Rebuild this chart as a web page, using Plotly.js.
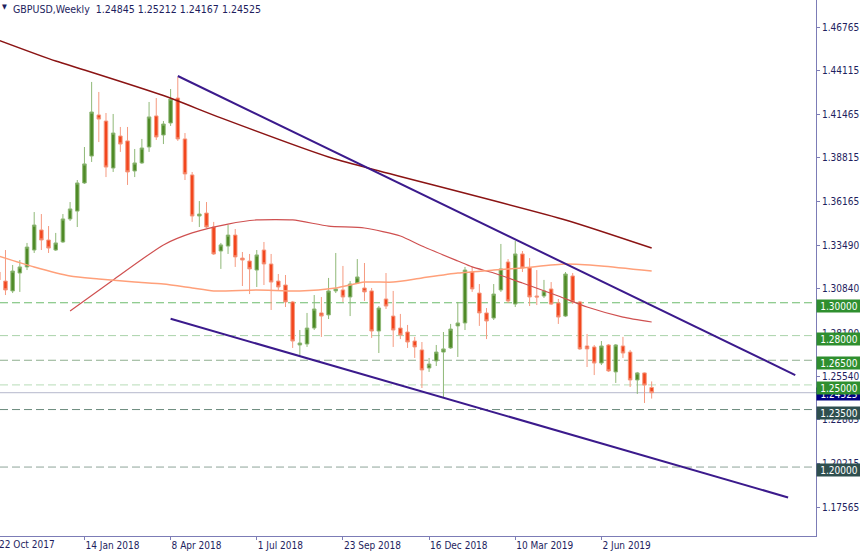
<!DOCTYPE html>
<html><head><meta charset="utf-8">
<script src="https://cdn.plot.ly/plotly-3.0.1.min.js"></script>
<style>html,body{margin:0;padding:0;background:#fff}#chart{width:860px;height:553px}</style>
</head><body><div id="chart"></div>
<script>
// Weekly candles, GBPUSD
const weeks = ["2017-10-22","2017-10-29","2017-11-05","2017-11-12","2017-11-19","2017-11-26","2017-12-03","2017-12-10","2017-12-17","2017-12-24",
"2017-12-31","2018-01-07","2018-01-14","2018-01-21","2018-01-28","2018-02-04","2018-02-11","2018-02-18","2018-02-25","2018-03-04",
"2018-03-11","2018-03-18","2018-03-25","2018-04-01","2018-04-08","2018-04-15","2018-04-22","2018-04-29","2018-05-06","2018-05-13",
"2018-05-20","2018-05-27","2018-06-03","2018-06-10","2018-06-17","2018-06-24","2018-07-01","2018-07-08","2018-07-15","2018-07-22",
"2018-07-29","2018-08-05","2018-08-12","2018-08-19","2018-08-26","2018-09-02","2018-09-09","2018-09-16","2018-09-23","2018-09-30",
"2018-10-07","2018-10-14","2018-10-21","2018-10-28","2018-11-04","2018-11-11","2018-11-18","2018-11-25","2018-12-02","2018-12-09",
"2018-12-16","2018-12-23","2018-12-30","2019-01-06","2019-01-13","2019-01-20","2019-01-27","2019-02-03","2019-02-10","2019-02-17",
"2019-02-24","2019-03-03","2019-03-10","2019-03-17","2019-03-24","2019-03-31","2019-04-07","2019-04-14","2019-04-21","2019-04-28",
"2019-05-05","2019-05-12","2019-05-19","2019-05-26","2019-06-02","2019-06-09","2019-06-16","2019-06-23","2019-06-30","2019-07-07",
"2019-07-14","2019-07-21"];
const open = [1.3187,1.3132,1.3072,1.3181,1.3218,1.3321,1.3443,1.3382,1.3321,1.3370,
1.3510,1.3558,1.3729,1.3893,1.4143,1.4106,1.3820,1.4015,1.3985,1.3802,
1.3851,1.3948,1.4137,1.4021,1.4094,1.4246,1.3997,1.3778,1.3528,1.3546,
1.3461,1.3315,1.3345,1.3412,1.3272,1.3254,1.3199,1.3321,1.3236,1.3132,
1.3108,1.3005,1.2743,1.2749,1.2846,1.2938,1.2926,1.3072,1.3078,1.3035,
1.3120,1.3090,1.3072,1.2828,1.3023,1.2919,1.2846,1.2822,1.2767,1.2713,
1.2603,1.2646,1.2700,1.2725,1.2859,1.2877,1.3187,1.3059,1.2938,1.2907,
1.3078,1.3248,1.2992,1.3297,1.3212,1.3041,1.3041,1.3084,1.2999,1.2919,
1.3163,1.3005,1.2737,1.2731,1.2633,1.2743,1.2579,1.2737,1.2700,1.2530,
1.2573,1.24845];
const high = [1.3224,1.3321,1.3230,1.3260,1.3364,1.3552,1.3540,1.3467,1.3425,1.3540,
1.3613,1.3747,1.3948,1.4344,1.4283,1.4155,1.4149,1.4070,1.4070,1.3936,
1.3997,1.4222,1.4246,1.4106,1.4301,1.4374,1.4033,1.3796,1.3619,1.3613,
1.3492,1.3364,1.3473,1.3449,1.3309,1.3297,1.3321,1.3370,1.3297,1.3175,
1.3169,1.3011,1.2834,1.2938,1.3047,1.3035,1.3151,1.3303,1.3224,1.3132,
1.3266,1.3242,1.3090,1.2980,1.3181,1.3072,1.2932,1.2865,1.2792,1.2761,
1.2664,1.2743,1.2822,1.2871,1.3005,1.3218,1.3218,1.3114,1.2968,1.3114,
1.3358,1.3266,1.3376,1.3315,1.3272,1.3199,1.3139,1.3126,1.3023,1.3187,
1.3181,1.3011,1.2810,1.2743,1.2767,1.2749,1.2749,1.2792,1.2713,1.2579,
1.2576,1.25212];
const low = [1.3114,1.3047,1.3059,1.3066,1.3199,1.3303,1.3321,1.3303,1.3315,1.3364,
1.3498,1.3461,1.3723,1.3857,1.3978,1.3765,1.3796,1.3918,1.3717,1.3765,
1.3845,1.3918,1.3991,1.3966,1.4076,1.3985,1.3747,1.3492,1.3461,1.3455,
1.3291,1.3206,1.3297,1.3218,1.3102,1.3053,1.3096,1.3108,1.2956,1.3072,
1.2974,1.2725,1.2670,1.2731,1.2834,1.2792,1.2901,1.3059,1.3005,1.2919,
1.3120,1.3011,1.2786,1.2694,1.2962,1.2731,1.2779,1.2725,1.2664,1.2481,
1.2579,1.2615,1.2426,1.2719,1.2670,1.2834,1.3066,1.2859,1.2779,1.2895,
1.3066,1.2999,1.2974,1.3187,1.2980,1.2986,1.3029,1.2986,1.2871,1.2913,
1.2992,1.2713,1.2609,1.2560,1.2621,1.2579,1.2512,1.2664,1.2487,1.2445,
1.2390,1.24167];
const close = [1.3139,1.3078,1.3193,1.3218,1.3339,1.3473,1.3382,1.3333,1.3364,1.3510,
1.3571,1.3729,1.3845,1.4161,1.4118,1.3826,1.4033,1.3966,1.3796,1.3851,
1.3942,1.4131,1.4009,1.4088,1.4240,1.3997,1.3784,1.3528,1.3540,1.3461,
1.3297,1.3352,1.3412,1.3279,1.3260,1.3206,1.3291,1.3236,1.3126,1.3096,
1.3005,1.2767,1.2755,1.2846,1.2962,1.2919,1.3072,1.3084,1.3035,1.3114,
1.3157,1.3066,1.2828,1.2968,1.2980,1.2834,1.2804,1.2761,1.2731,1.2591,
1.2627,1.2700,1.2719,1.2840,1.2877,1.3199,1.3084,1.2938,1.2889,1.3053,
1.3206,1.3011,1.3297,1.3212,1.3035,1.3035,1.3072,1.2992,1.2913,1.3175,
1.3005,1.2719,1.2719,1.2633,1.2737,1.2585,1.2743,1.2694,1.2530,1.2573,
1.2499,1.24525];

// moving averages (sampled at candle indices)
const maSlowIdx = [0,8,12,23,31,46,52,79,91];
const maSlow = [1.4599,1.4471,1.4417,1.4261,1.4125,1.3887,1.3814,1.3504,1.3333];
const maMidIdx = [10,16,23,27,32,36,41,46,51,56,59,64,66,69,73,78,82,87,91];
const maMid = [1.2950,1.3139,1.3352,1.3425,1.3479,1.3504,1.3504,1.3467,1.3455,1.3406,1.3345,1.3254,1.3218,1.3181,1.3120,1.3041,1.2974,1.2913,1.2883];
const maFastIdx = [0,5,10,14,19,23,27,30,36,42,47,51,55,59,64,69,73,79,84,91];
const maFast = [1.3285,1.3218,1.3163,1.3145,1.3126,1.3114,1.3090,1.3072,1.3078,1.3072,1.3090,1.3126,1.3126,1.3151,1.3181,1.3199,1.3212,1.3236,1.3224,1.3193];

// trend channel
const upperDates = ["2018-04-15","2019-12-08"];
const upperVals = [1.4380,1.2560];
const lowerDates = ["2018-04-08","2019-12-01"];
const lowerVals = [1.2903,1.1815];

// horizontal levels
const levels = [1.30000,1.28000,1.26500,1.25000,1.23500,1.20000];
const levelLabels = ["1.30000","1.28000","1.26500","1.25000","1.23500","1.20000"];
const levelLine = ["#6dbb6d","#a9d3a9","#8fae8f","#b7dcb7","#6b8a7c","#8ea59a"];
const levelBox = ["#2f8f2f","#2f8f2f","#2f8f2f","#2f8f2f","#2f4f4f","#2f4f4f"];
const lastPrice = 1.24525;
const lastLabel = "1.24525";

const yTicks = [1.46765,1.44115,1.41465,1.38815,1.36165,1.33490,1.30840,1.28100,1.25540,1.22865,1.20215,1.17565];
const yTickText = ["1.46765","1.44115","1.41465","1.38815","1.36165","1.33490","1.30840","1.28100","1.25540","1.22865","1.20215","1.17565"];
const xTicks = ["2017-10-22","2018-01-14","2018-04-08","2018-07-01","2018-09-23","2018-12-16","2019-03-10","2019-06-02"];
const xTickText = ["22 Oct 2017","14 Jan 2018","8 Apr 2018","1 Jul 2018","23 Sep 2018","16 Dec 2018","10 Mar 2019","2 Jun 2019"];
const titleText = "GBPUSD,Weekly  1.24845 1.25212 1.24167 1.24525";

const FONT = "'DejaVu Sans Condensed', 'DejaVu Sans', sans-serif";
const AXC = "#7c7cb6";
const TXC = "#1e1e5e";

const traces = [
  {type:"candlestick", x:weeks, open:open, high:high, low:low, close:close,
   increasing:{line:{color:"#8fb877",width:1}, fillcolor:"#4f8a27"},
   decreasing:{line:{color:"#f59a80",width:1}, fillcolor:"#f2461d"},
   whiskerwidth:0, showlegend:false, hoverinfo:"skip"},
  {type:"scatter", mode:"lines", x:maSlowIdx.map(i=>weeks[i]), y:maSlow,
   line:{color:"#8b1414",width:1.5,shape:"spline",smoothing:0.6}, showlegend:false, hoverinfo:"skip"},
  {type:"scatter", mode:"lines", x:maMidIdx.map(i=>weeks[i]), y:maMid,
   line:{color:"#cf5050",width:1.2,shape:"spline",smoothing:0.6}, showlegend:false, hoverinfo:"skip"},
  {type:"scatter", mode:"lines", x:maFastIdx.map(i=>weeks[i]), y:maFast,
   line:{color:"#ffa07a",width:1.5,shape:"spline",smoothing:0.6}, showlegend:false, hoverinfo:"skip"},
  {type:"scatter", mode:"lines", x:upperDates, y:upperVals,
   line:{color:"#3b1a8c",width:2}, showlegend:false, hoverinfo:"skip"},
  {type:"scatter", mode:"lines", x:lowerDates, y:lowerVals,
   line:{color:"#3b1a8c",width:2}, showlegend:false, hoverinfo:"skip"}
];

const shapes = levels.map((v,k)=>({type:"line", xref:"paper", x0:0, x1:1, yref:"y", y0:v, y1:v,
  line:{color:levelLine[k], width:1, dash:"8px,4px"}, layer:"below"}));
shapes.push({type:"line", xref:"paper", x0:0, x1:1, yref:"y", y0:lastPrice, y1:lastPrice,
  line:{color:"#c4c6d6", width:1.2}, layer:"below"});

const annotations = [];
annotations.push({xref:"paper", yref:"y", x:1, y:lastPrice, xanchor:"left", yanchor:"middle", xshift:0, yshift:-1,
  text:lastLabel, showarrow:false, bgcolor:"#000080", font:{family:FONT,size:10,color:"#ffffff"},
  width:42, height:10, borderpad:1});
levels.forEach((v,k)=>annotations.push({xref:"paper", yref:"y", x:1, y:v, xanchor:"left", yanchor:"middle", yshift:-3,
  text:levelLabels[k], showarrow:false, bgcolor:levelBox[k], font:{family:FONT,size:10,color:"#ffffff"},
  width:42, height:10, borderpad:1}));
annotations.push({xref:"paper", yref:"paper", x:0, y:1, xanchor:"left", yanchor:"top", xshift:11, yshift:-1,
  text:titleText, showarrow:false, font:{family:FONT,size:10.5,color:TXC}});
annotations.push({xref:"paper", yref:"paper", x:0, y:1, xanchor:"left", yanchor:"top", xshift:0, yshift:-1,
  text:"▼", showarrow:false, font:{family:FONT,size:7,color:TXC}});
// first date label: its tick falls just left of the plot edge, so it is cut like in the reference
annotations.push({xref:"paper", yref:"paper", x:0, y:0, xanchor:"left", yanchor:"top", yshift:-1, xshift:-3,
  text:xTickText[0], showarrow:false, font:{family:FONT,size:10,color:TXC}});

const layout = {
  width:860, height:553,
  margin:{l:0, r:44, t:0, b:17, pad:0},
  paper_bgcolor:"#ffffff", plot_bgcolor:"#ffffff",
  showlegend:false,
  xaxis:{type:"date", range:["2017-10-23 16:00","2019-12-28 05:00"], rangeslider:{visible:false},
    tickvals:xTicks, ticktext:xTickText, ticks:"outside", ticklen:3, tickcolor:AXC,
    ticklabelposition:"outside right",
    showgrid:false, zeroline:false, showline:true, linecolor:AXC, linewidth:1, mirror:true,
    tickfont:{family:FONT,size:10,color:TXC}, fixedrange:true},
  yaxis:{side:"right", range:[1.15804,1.48427], tickvals:yTicks, ticktext:yTickText,
    ticks:"outside", ticklen:3, tickcolor:AXC, showgrid:false, zeroline:false,
    showline:true, linecolor:AXC, linewidth:1, mirror:true,
    tickfont:{family:FONT,size:10,color:TXC}, fixedrange:true},
  shapes:shapes, annotations:annotations
};

Plotly.newPlot("chart", traces, layout, {staticPlot:true, displayModeBar:false});
</script>
</body></html>
